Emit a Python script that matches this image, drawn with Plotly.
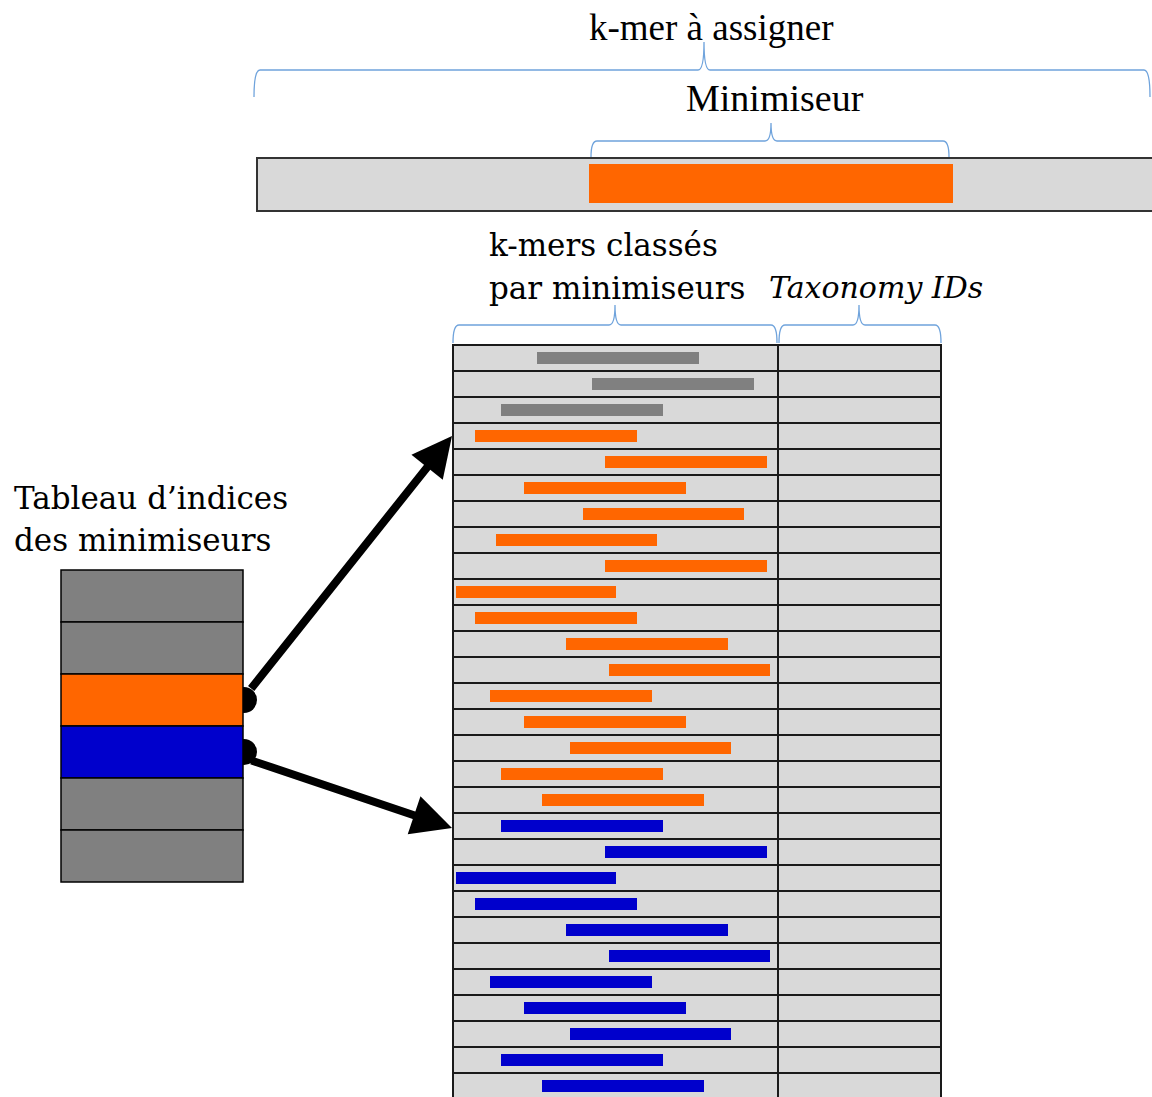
import plotly.graph_objects as go

W, H = 1152, 1097

# k-mers classés par minimiseurs : début / fin de chaque k-mer dans sa ligne (px)
kmer_start = [537, 592, 501,
              475, 605, 524, 583, 496, 605, 456, 475, 566, 609, 490, 524, 570, 501, 542,
              501, 605, 456, 475, 566, 609, 490, 524, 570, 501, 542]
kmer_end = [699, 754, 663,
            637, 767, 686, 744, 657, 767, 616, 637, 728, 770, 652, 686, 731, 663, 704,
            663, 767, 616, 637, 728, 770, 652, 686, 731, 663, 704]
kmer_group = ["autre", "autre", "autre",
              "min_a", "min_a", "min_a", "min_a", "min_a", "min_a", "min_a", "min_a",
              "min_a", "min_a", "min_a", "min_a", "min_a", "min_a", "min_a",
              "min_b", "min_b", "min_b", "min_b", "min_b", "min_b", "min_b", "min_b",
              "min_b", "min_b", "min_b"]

# tableau d'indices des minimiseurs
index_group = ["autre", "autre", "min_a", "min_b", "autre", "autre"]

# k-mer à assigner et son minimiseur
query_span = [257, 1160]
minimiser_span = [589, 953]

colors = {"autre": "#808080", "min_a": "#FF6600", "min_b": "#0000CC"}
cell_bg = "#D9D9D9"
brace_col = "#6FA3DC"
font_top = "Liberation Serif, serif"
font_low = "DejaVu Serif, serif"

# géométrie du tableau de droite
tx0, txm, tx1 = 453, 778, 941
ty0, row_h = 345, 26
n_rows = len(kmer_start)

# géométrie du tableau de gauche
lx0, lx1, ly0, lrow_h = 61, 243, 570, 52


def brace(x0, x1, y, tip_y, end_y, xm=None, r=6):
    if xm is None:
        xm = (x0 + x1) / 2
    return (f"M{x0},{end_y} Q{x0},{y} {x0 + r},{y} L{xm - r},{y} "
            f"Q{xm},{y} {xm},{tip_y} Q{xm},{y} {xm + r},{y} "
            f"L{x1 - r},{y} Q{x1},{y} {x1},{end_y}")


fig = go.Figure()

shapes = []

# points d'attache des flèches (sous le tableau de gauche)
for i in (2, 3):
    cy = ly0 + lrow_h * (i + 0.5)
    shapes.append(dict(type="circle", x0=lx1 - 12, x1=lx1 + 14, y0=cy - 13, y1=cy + 13,
                       fillcolor="black", line=dict(width=0), layer="below"))

# tableau d'indices
for i, g in enumerate(index_group):
    shapes.append(dict(type="rect", x0=lx0, x1=lx1, y0=ly0 + i * lrow_h, y1=ly0 + (i + 1) * lrow_h,
                       fillcolor=colors[g], line=dict(color="black", width=1.5), layer="below"))

# grille des k-mers classés + taxonomy IDs
for i in range(n_rows):
    for a, b in ((tx0, txm), (txm, tx1)):
        shapes.append(dict(type="rect", x0=a, x1=b, y0=ty0 + i * row_h, y1=ty0 + (i + 1) * row_h,
                           fillcolor=cell_bg, line=dict(color="#1a1a1a", width=2), layer="below"))

# k-mer à assigner
shapes.append(dict(type="rect", x0=query_span[0], x1=query_span[1], y0=158, y1=211,
                   fillcolor=cell_bg, line=dict(color="#333333", width=2), layer="below"))
shapes.append(dict(type="rect", x0=minimiser_span[0], x1=minimiser_span[1], y0=164, y1=203,
                   fillcolor=colors["min_a"], line=dict(width=0), layer="below"))

# accolades
for path in (brace(254, 1150, 70, 42, 97, xm=704),
             brace(591, 949, 141, 123, 157, xm=771),
             brace(453, 777, 325, 305, 343, xm=615),
             brace(779, 941, 325, 305, 343, xm=859)):
    shapes.append(dict(type="path", path=path, line=dict(color=brace_col, width=1.3)))

# barres des k-mers
fig.add_trace(go.Bar(
    y=[ty0 + row_h * (i + 0.5) for i in range(n_rows)],
    base=kmer_start,
    x=[e - s for s, e in zip(kmer_start, kmer_end)],
    orientation="h",
    width=12.5,
    marker=dict(color=[colors[g] for g in kmer_group], line=dict(width=0)),
    hoverinfo="skip",
    showlegend=False,
))

annotations = []
text_items = [
    ("k-mer à assigner", 711, 27, "center", False, font_top, 37),
    ("Minimiseur", 775, 98, "center", False, font_top, 38),
    ("k-mers classés", 487, 245, "left", False, font_low, 31),
    ("par minimiseurs", 487, 288, "left", False, font_low, 31),
    ("Taxonomy IDs", 767, 287, "left", True, font_low, 30),
    ("Tableau d’indices", 12, 498, "left", False, font_low, 31),
    ("des minimiseurs", 12, 540, "left", False, font_low, 31),
]
for txt, x, y, anchor, ital, fam, size in text_items:
    annotations.append(dict(
        text=f"<i>{txt}</i>" if ital else txt, x=x, y=y, xref="x", yref="y",
        xanchor=anchor, yanchor="middle", showarrow=False,
        font=dict(family=fam, size=size, color="black"),
    ))

# flèches
for (hx, hy), (sx, sy) in (((452, 436), (250, 690)), ((452, 828), (250, 760))):
    annotations.append(dict(
        x=hx, y=hy, ax=sx, ay=sy, xref="x", yref="y", axref="x", ayref="y",
        text="", showarrow=True, arrowhead=2, arrowsize=1.0, arrowwidth=8,
        arrowcolor="black", standoff=0,
    ))

fig.update_layout(
    width=W, height=H,
    margin=dict(l=0, r=0, t=0, b=0),
    paper_bgcolor="white", plot_bgcolor="white",
    shapes=shapes, annotations=annotations,
    xaxis=dict(range=[0, W], visible=False, fixedrange=True),
    yaxis=dict(range=[H, 0], visible=False, fixedrange=True),
    bargap=0,
)

# la page html a une marge de 8 px par défaut : on la supprime
fig.write_html("out.html", config={"displayModeBar": False},
               post_script="document.body.style.margin = '0px';")
